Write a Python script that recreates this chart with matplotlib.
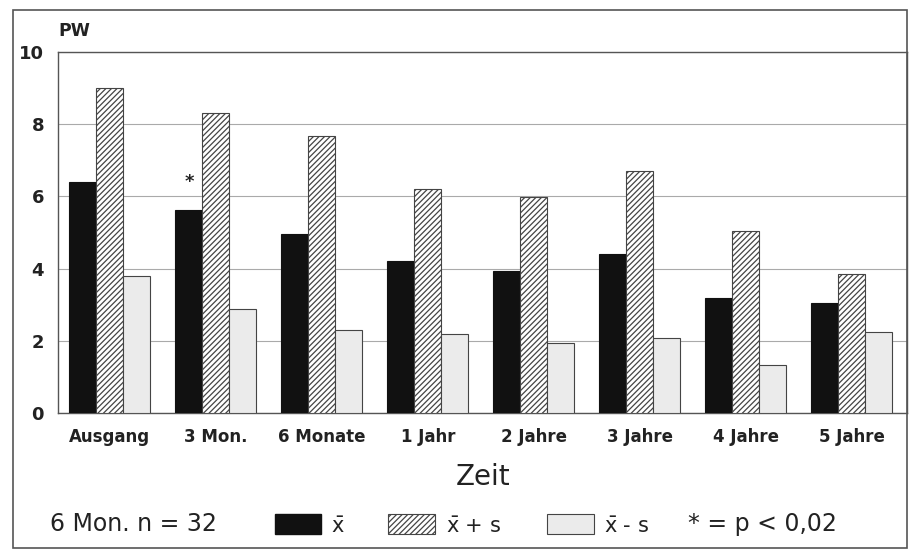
import matplotlib
matplotlib.use("Agg")
import matplotlib.pyplot as plt
from matplotlib.patches import Rectangle
import numpy as np

categories = ["Ausgang", "3 Mon.", "6 Monate", "1 Jahr", "2 Jahre", "3 Jahre", "4 Jahre", "5 Jahre"]
mean_vals = [6.4, 5.63, 4.97, 4.2, 3.92, 4.4, 3.18, 3.04]
plus_s_vals = [9.0, 8.3, 7.68, 6.2, 5.97, 6.7, 5.03, 3.84]
minus_s_vals = [3.8, 2.87, 2.3, 2.2, 1.93, 2.07, 1.33, 2.24]
yticks = [0, 2, 4, 6, 8, 10]
signif_index = 1

plt.rcParams['font.family'] = ['DejaVu Sans']
plt.rcParams['hatch.linewidth'] = 0.9
plt.rcParams['mathtext.fontset'] = 'dejavusans'

fig = plt.figure(figsize=(9.11, 5.51), dpi=100)
ax = fig.add_axes([58/911, 1-413/551, (907-58)/911, (413-52)/551])

x = np.arange(len(categories))
w = 0.255
ax.bar(x - w, mean_vals, w, color='#111111', edgecolor='#111111', linewidth=0.8, zorder=3)
ax.bar(x, plus_s_vals, w, color='white', edgecolor='#444444', hatch='//////', linewidth=0.8, zorder=3)
ax.bar(x + w, minus_s_vals, w, color='#ebebeb', edgecolor='#444444', linewidth=0.8, zorder=3)

ax.text(x[signif_index] - w, mean_vals[signif_index] + 0.78, '*', ha='center', va='center',
        fontsize=13, fontweight='bold', color='#222222', zorder=4)

ax.set_xlim(-0.49, 7.52)
ax.set_ylim(0, 10)
ax.set_yticks(yticks)
ax.set_yticklabels([str(v) for v in yticks], fontsize=13, fontweight='bold', color='#222222')
ax.set_xticks(x)
ax.set_xticklabels(categories, fontsize=12, fontweight='bold', color='#222222')
ax.tick_params(axis='x', length=0, pad=11)
ax.tick_params(axis='y', length=0, pad=10)
ax.grid(axis='y', color='#aaaaaa', linewidth=0.8, zorder=0)
for s in ax.spines.values():
    s.set_color('#555555')
    s.set_linewidth(1.0)

fig.text(58/911, 1-31/551, 'PW', fontsize=12.5, fontweight='bold', ha='left', va='center', color='#222222')
fig.text(483/911, 1-477/551, 'Zeit', fontsize=20, ha='center', va='center', color='#222222')

# outer frame
fig.patches.append(Rectangle((13/911, 1-548/551), (907-13)/911, (548-10)/551,
                             transform=fig.transFigure, fill=False, edgecolor='#555555', linewidth=1.2))

# legend row
ly = 1-524/551
fig.text(50/911, ly, '6 Mon. n = 32', fontsize=17, ha='left', va='center', color='#222222')
bh = 20/551
fig.patches.append(Rectangle((275/911, ly - bh/2), 46/911, bh, transform=fig.transFigure,
                             facecolor='#111111', edgecolor='#111111'))
fig.text(331/911, ly - 3/551, r'$\bar{\mathrm{x}}$', fontsize=15, ha='left', va='center', color='#222222')
fig.patches.append(Rectangle((388/911, ly - bh/2), 47/911, bh, transform=fig.transFigure,
                             facecolor='white', edgecolor='#444444', hatch='//////', linewidth=0.8))
fig.text(446/911, ly - 3/551, r'$\bar{\mathrm{x}}$ + s', fontsize=15, ha='left', va='center', color='#222222')
fig.patches.append(Rectangle((547/911, ly - bh/2), 47/911, bh, transform=fig.transFigure,
                             facecolor='#ebebeb', edgecolor='#444444', linewidth=0.8))
fig.text(604/911, ly - 3/551, r'$\bar{\mathrm{x}}$ - s', fontsize=15, ha='left', va='center', color='#222222')
fig.text(688/911, ly, '* = p < 0,02', fontsize=17, ha='left', va='center', color='#222222')

fig.savefig('out.png', dpi=100)
